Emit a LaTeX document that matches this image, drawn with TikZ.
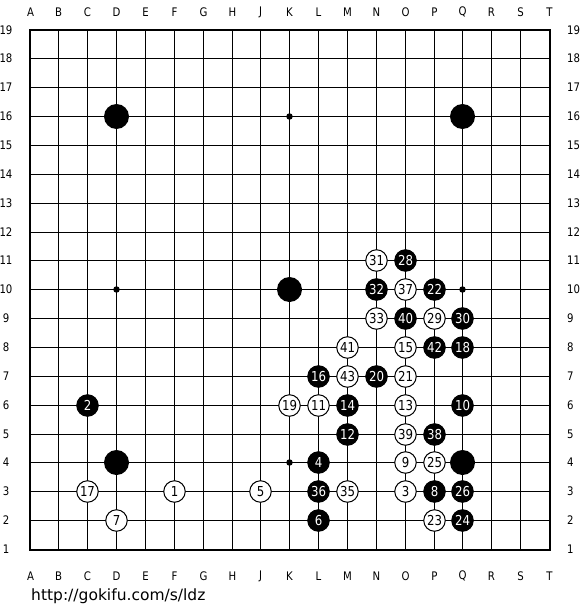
\documentclass[tikz,border=0pt]{standalone}
\usepackage{fontspec}
\newfontfamily\labfont[FakeStretch=0.86]{DejaVu Sans}
\newfontfamily\urlfont{DejaVu Sans}
\begin{document}
\begin{tikzpicture}[x=1pt,y=-1pt,
  declare function={gx(\i)=int(30+\i*28.86)+0.5; gy(\r)=int(30+(19-\r)*28.86)+0.5;},
  gridline/.style={line width=1pt},
  border/.style={line width=2pt},
  coordlab/.style={inner sep=0pt, font=\labfont\fontsize{11.8}{12}\selectfont},
  wst/.style={circle, draw=black, fill=white, line width=1pt, minimum size=21.5pt, inner sep=0pt, font=\labfont\fontsize{13.7}{14}\selectfont},
  bst/.style={circle, draw=black, fill=black, text=white, line width=1pt, minimum size=21.5pt, inner sep=0pt, font=\labfont\fontsize{13.7}{14}\selectfont},
  bigst/.style={circle, fill=black, minimum size=25pt, inner sep=0pt},
  hoshi/.style={circle, fill=black, minimum size=6.5pt, inner sep=0pt}]
\useasboundingbox (0,0) rectangle (580,610);
% grid
\foreach \i in {0,...,18} {
  \draw[gridline] ({gx(\i)},{gy(19)}) -- ({gx(\i)},{gy(1)});
  \draw[gridline] ({gx(0)},{gy(\i+1)}) -- ({gx(18)},{gy(\i+1)});
}
\draw[border] ({gx(0)-0.5},{gy(19)-0.5}) rectangle ({gx(18)+0.5},{gy(1)+0.5});
% coordinates
\foreach \l [count=\i from 0] in {A,B,C,D,E,F,G,H,J,K,L,M,N,O,P,Q,R,S,T} {
  \node[coordlab] (top\l) at ({gx(\i)},12) {\l};
  \node[coordlab] (bot\l) at ({gx(\i)},576) {\l};
}
\foreach \r in {1,...,19} {
  \node[coordlab] (left\r) at (6,{gy(\r)}) {\r};
  \node[coordlab, anchor=west] (right\r) at (567,{gy(\r)}) {\r};
}
% star points
\foreach \c/\r [count=\k] in {3/16,9/16,15/16,3/10,9/10,15/10,3/4,9/4,15/4} {
  \node[hoshi] (h\k) at ({gx(\c)},{gy(\r)}) {};
}
% big stones
\foreach \c/\r [count=\k] in {3/16,15/16,9/10,3/4,15/4} {
  \node[bigst] (b\k) at ({gx(\c)},{gy(\r)}) {};
}
% white numbered stones
\foreach \n/\c/\r in {1/5/3,3/13/3,5/8/3,7/3/2,9/13/4,11/10/6,13/13/6,15/13/8,17/2/3,19/9/6,21/13/7,23/14/2,25/14/4,29/14/9,31/12/11,33/12/9,35/11/3,37/13/10,39/13/5,41/11/8,43/11/7} {
  \node[wst] (s\n) at ({gx(\c)},{gy(\r)}) {\n};
}
% black numbered stones
\foreach \n/\c/\r in {2/2/6,4/10/4,6/10/2,8/14/3,10/15/6,12/11/5,14/11/6,16/10/7,18/15/8,20/12/7,22/14/10,24/15/2,26/15/3,28/13/11,30/15/9,32/12/10,36/10/3,38/14/5,40/13/9,42/14/8} {
  \node[bst] (s\n) at ({gx(\c)},{gy(\r)}) {\n};
}
\node[anchor=base west, inner sep=0pt, font=\urlfont\fontsize{15.5}{16}\selectfont] (url) at (31,600) {http://gokifu.com/s/ldz};
\end{tikzpicture}
\end{document}
